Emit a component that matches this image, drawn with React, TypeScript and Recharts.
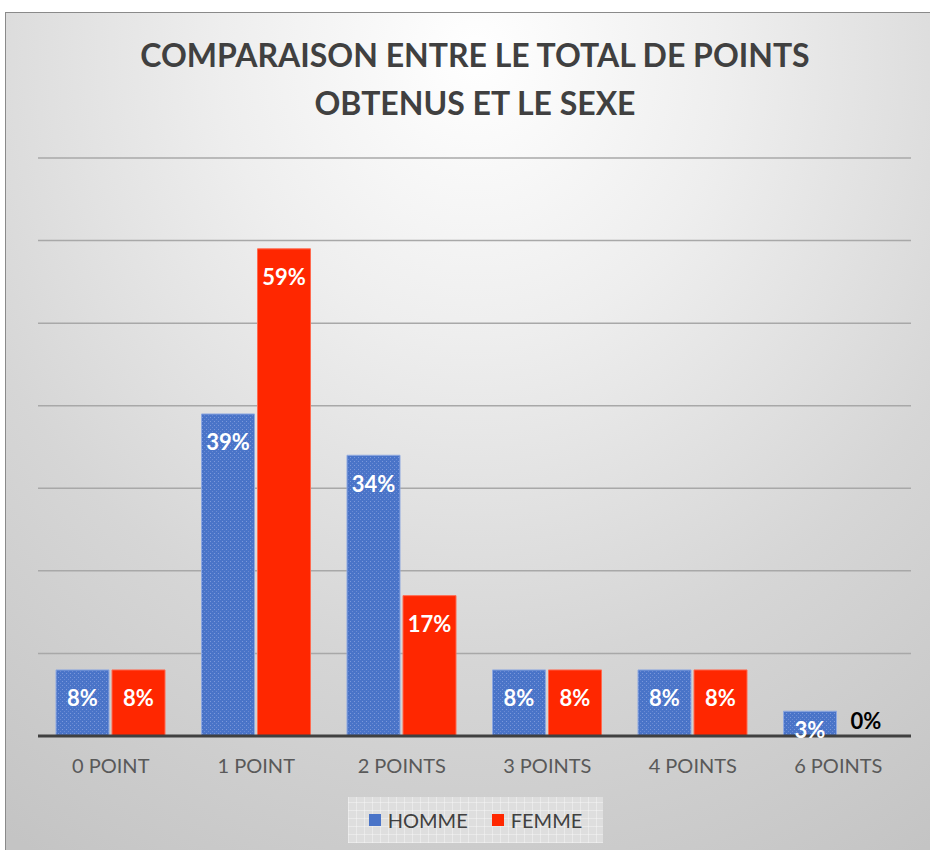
import React from "react";
import { BarChart, Bar, XAxis, YAxis, CartesianGrid, Legend, LabelList, Cell } from "recharts";

const categories = ["0 POINT", "1 POINT", "2 POINTS", "3 POINTS", "4 POINTS", "6 POINTS"];
const homme = [8, 39, 34, 8, 8, 3];
const femme = [8, 59, 17, 8, 8, 0];
const yTicks = [0, 10, 20, 30, 40, 50, 60, 70];
const titleLines = ["COMPARAISON ENTRE LE TOTAL DE POINTS", "OBTENUS ET LE SEXE"];

const data = categories.map((c, i) => ({ cat: c, HOMME: homme[i], FEMME: femme[i] }));

const FONT = "Lato, 'Open Sans', sans-serif";
const BLUE = "#4a74c8";
const RED = "#ff2700";

const ValueLabel = (props: any) => {
  const { x, y, width, height, value } = props;
  const cx = Number(x) + Number(width) / 2;
  const bottom = Number(y) + Number(height);
  if (!value) {
    return (
      <text x={cx} y={bottom - 16} textAnchor="middle" dominantBaseline="central"
        fontFamily={FONT} fontWeight={700} fontSize={22} fill="#000">
        {value}%
      </text>
    );
  }
  const cy = Math.min(Number(y) + 28, bottom - 7);
  return (
    <text x={cx} y={cy} textAnchor="middle" dominantBaseline="central"
      fontFamily={FONT} fontWeight={700} fontSize={22} fill="#fff">
      {value}%
    </text>
  );
};

const LegendBox = () => (
  <div
    style={{
      width: 255,
      height: 46,
      background: "#dedede",
      backgroundImage:
        "repeating-linear-gradient(0deg, rgba(255,255,255,0.35) 0 1px, transparent 1px 8px), repeating-linear-gradient(90deg, rgba(255,255,255,0.35) 0 1px, transparent 1px 8px)",
      display: "flex",
      alignItems: "center",
      justifyContent: "center",
      fontFamily: FONT,
      fontSize: 20,
      color: "#404040",
    }}
  >
    <span style={{ display: "inline-block", width: 12, height: 12, background: BLUE, marginRight: 7 }} />
    <span style={{ marginRight: 24 }}>HOMME</span>
    <span style={{ display: "inline-block", width: 12, height: 12, background: RED, marginRight: 7 }} />
    <span>FEMME</span>
  </div>
);

export default function App() {
  return (
    <div
      style={{
        position: "absolute",
        left: 5,
        top: 12,
        width: 940,
        height: 850,
        border: "1px solid #8a8a8a",
        background: "radial-gradient(ellipse 90% 110% at 50% 5%, #ffffff 0%, #eeeeee 30%, #d6d6d6 65%, #c4c4c4 100%)",
        overflow: "hidden",
      }}
    >
      <div
        style={{
          position: "absolute",
          left: 0,
          top: 18,
          width: 938,
          textAlign: "center",
          fontFamily: FONT,
          fontWeight: 700,
          fontSize: 32,
          lineHeight: "48px",
          color: "#404040",
        }}
      >
        {titleLines.map((t) => (
          <div key={t}>{t}</div>
        ))}
      </div>
      <BarChart
        width={925}
        height={838}
        data={data}
        margin={{ top: 145, right: 20, left: 32, bottom: 29 }}
        barGap={3}
        barCategoryGap={18}
      >
        <defs>
          <pattern id="blueDots" width="4" height="4" patternUnits="userSpaceOnUse">
            <rect width="4" height="4" fill={BLUE} />
            <rect width="1" height="1" fill="#7b98db" />
            <rect x="2" y="2" width="1" height="1" fill="#6a8ad3" />
          </pattern>
        </defs>
        <CartesianGrid vertical={false} stroke="#a8a8a8" strokeWidth={1.5} />
        <YAxis hide domain={[0, 70]} ticks={yTicks} />
        <XAxis
          dataKey="cat"
          height={40}
          axisLine={{ stroke: "#404040", strokeWidth: 3 }}
          tickLine={false}
          tick={{ fill: "#595959", fontSize: 20, fontFamily: FONT }}
          tickMargin={17}
        />
        <Legend
          content={<LegendBox />}
          verticalAlign="bottom"
          wrapperStyle={{ position: "absolute", left: 342, top: 784, width: 255, height: 46 }}
        />
        <Bar dataKey="HOMME" fill="url(#blueDots)" stroke="#8ea8e0" strokeWidth={1} isAnimationActive={false}>
          <LabelList dataKey="HOMME" content={<ValueLabel />} />
        </Bar>
        <Bar dataKey="FEMME" fill={RED} stroke="#ff6a50" strokeWidth={1} minPointSize={1} isAnimationActive={false}>
          {femme.map((v, i) => (
            <Cell key={i} fill={v === 0 ? "transparent" : RED} stroke={v === 0 ? "none" : "#ff6a50"} />
          ))}
          <LabelList dataKey="FEMME" content={<ValueLabel />} />
        </Bar>
      </BarChart>
    </div>
  );
}
